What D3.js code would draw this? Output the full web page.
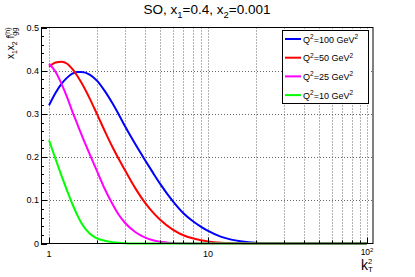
<!DOCTYPE html>
<html>
<head>
<meta charset="utf-8">
<script src="https://cdn.jsdelivr.net/npm/d3@7"></script>
<style>
  body { margin: 0; background: #fff; }
  svg { display: block; font-family: "Liberation Sans", Arial, sans-serif; }
</style>
</head>
<body>
<div id="chart"></div>
<script>
// k_T^2 sample points and the four curves
const kt2 = [1, 1.1, 1.2, 1.3, 1.4, 1.5, 1.6, 1.8, 2, 2.25, 2.5, 2.75, 3, 3.5, 4, 4.5, 5, 6, 7, 8, 9, 10, 12, 14, 16, 18, 20, 25, 30, 40, 50, 60, 70, 80, 90, 100];
const q100 = [0.320, 0.349, 0.370, 0.384, 0.393, 0.397, 0.397, 0.391, 0.377, 0.352, 0.325, 0.298, 0.272, 0.229, 0.194, 0.164, 0.138, 0.098, 0.070, 0.052, 0.039, 0.029, 0.016, 0.009, 0.0052, 0.003, 0.0018, 0.0006, 0.0002, 0, 0, 0, 0, 0, 0, 0];
const q50 = [0.409, 0.419, 0.421, 0.416, 0.404, 0.389, 0.372, 0.336, 0.300, 0.259, 0.224, 0.195, 0.170, 0.127, 0.095, 0.072, 0.055, 0.032, 0.019, 0.012, 0.0075, 0.0048, 0.002, 0.0008, 0.0003, 0.0001, 0, 0, 0, 0, 0, 0, 0, 0, 0, 0];
const q25 = [0.416, 0.397, 0.369, 0.338, 0.306, 0.278, 0.252, 0.207, 0.168, 0.125, 0.092, 0.066, 0.048, 0.026, 0.014, 0.0075, 0.004, 0.0012, 0.0003, 0, 0, 0, 0, 0, 0, 0, 0, 0, 0, 0, 0, 0, 0, 0, 0, 0];
const q10 = [0.239, 0.195, 0.156, 0.122, 0.092, 0.067, 0.047, 0.023, 0.012, 0.0062, 0.0032, 0.0016, 0.0008, 0.0002, 0, 0, 0, 0, 0, 0, 0, 0, 0, 0, 0, 0, 0, 0, 0, 0, 0, 0, 0, 0, 0, 0];
const seriesNames = ['100', '50', '25', '10'];
const seriesValues = [q100, q50, q25, q10];
const seriesColors = ['#0000ff', '#ff0000', '#ff00ff', '#00ff00'];
const yTicks = [0, 0.1, 0.2, 0.3, 0.4, 0.5];

const W = 415, H = 277;
const frame = { left: 41, right: 373, top: 27.5, bottom: 243.5 };

const svg = d3.select('#chart').append('svg')
    .attr('width', W)
    .attr('height', H);

const x = d3.scaleLog().domain([0.89, 109]).range([frame.left, frame.right]);
const y = d3.scaleLinear().domain([0, 0.5]).range([frame.bottom, frame.top]);

// rich text helper: parts = [text, size, offset from baseline, dx]
function rich(sel, parts) {
    let shift = 0;
    parts.forEach(([t, size, off, dx]) => {
        const ts = sel.append('tspan')
            .attr('dy', off - shift)
            .attr('font-size', size)
            .text(t);
        if (dx) ts.attr('dx', dx);
        shift = off;
    });
}

// grid
const xGrid = [];
[1, 10].forEach(d => { for (let i = 1; i < 10; i++) xGrid.push(d * i); });
xGrid.push(100);

svg.append('g').selectAll('line')
    .data(xGrid)
    .join('line')
    .attr('x1', d => Math.round(x(d)) + 0.5).attr('x2', d => Math.round(x(d)) + 0.5)
    .attr('y1', frame.top).attr('y2', frame.bottom)
    .attr('stroke', '#666').attr('stroke-dasharray', '1,2');

svg.append('g').selectAll('line')
    .data(yTicks.slice(1, -1))
    .join('line')
    .attr('x1', frame.left).attr('x2', frame.right)
    .attr('y1', d => Math.round(y(d)) + 0.5).attr('y2', d => Math.round(y(d)) + 0.5)
    .attr('stroke', '#666').attr('stroke-dasharray', '1,2');

// curves
const line = d3.line()
    .x(d => x(d[0]))
    .y(d => y(d[1]))
    .curve(d3.curveMonotoneX);

svg.append('g').selectAll('path')
    .data(seriesValues)
    .join('path')
    .attr('d', vals => line(kt2.map((k, i) => [k, vals[i]])))
    .attr('fill', 'none')
    .attr('stroke', (d, i) => seriesColors[i])
    .attr('stroke-width', 2);

// frame
svg.append('rect')
    .attr('x', frame.left + 0.5).attr('y', frame.top)
    .attr('width', frame.right - frame.left - 0.5).attr('height', frame.bottom - frame.top)
    .attr('fill', 'none').attr('stroke', '#000');

// y ticks
const yMinor = d3.range(0, 0.5001, 0.02);
svg.append('g').selectAll('line')
    .data(yMinor)
    .join('line')
    .attr('x1', frame.left)
    .attr('x2', (d, i) => frame.left + (i % 5 === 0 ? 6 : 3))
    .attr('y1', d => Math.round(y(d)) + 0.5).attr('y2', d => Math.round(y(d)) + 0.5)
    .attr('stroke', '#000');

svg.append('g').selectAll('text')
    .data(yTicks)
    .join('text')
    .attr('x', frame.left - 2)
    .attr('y', d => y(d) + 3)
    .attr('text-anchor', 'end')
    .attr('font-size', 9)
    .text(d => d === 0 ? '0' : d3.format('.1f')(d));

// x ticks
svg.append('g').selectAll('line')
    .data(xGrid)
    .join('line')
    .attr('x1', d => Math.round(x(d)) + 0.5).attr('x2', d => Math.round(x(d)) + 0.5)
    .attr('y1', frame.bottom)
    .attr('y2', d => frame.bottom - ([1, 10, 100].includes(d) ? 6 : 3))
    .attr('stroke', '#000');

svg.append('text').attr('x', x(1)).attr('y', 257).attr('text-anchor', 'middle').attr('font-size', 9).text('1');
svg.append('text').attr('x', x(10)).attr('y', 257).attr('text-anchor', 'middle').attr('font-size', 9).text('10');
rich(svg.append('text').attr('x', x(100)).attr('y', 255).attr('text-anchor', 'middle'),
    [['10', 8.5, 0], ['2', 6, -3.5]]);

// title
rich(svg.append('text').attr('x', 207).attr('y', 14).attr('text-anchor', 'middle'),
    [['SO, x', 13.5, 0], ['1', 9.5, 4], ['=0.4, x', 13.5, 0], ['2', 9.5, 4], ['=0.001', 13.5, 0]]);

// axis titles
rich(svg.append('text').attr('transform', `translate(14,${frame.top}) rotate(-90)`).attr('text-anchor', 'end'),
    [['x', 10, 0], ['1', 7, 3], ['x', 10, 0], ['2', 7, 3], [' f', 10, 0], ['gg', 7, 3], ['(h)', 7, -4.5, -8.2]]);

rich(svg.append('text').attr('x', frame.right).attr('y', 269.5).attr('text-anchor', 'end'),
    [['k', 14, 0], ['T', 8, 2], ['2', 7.5, -6, -5]]);

// legend
const legend = svg.append('g');
legend.append('rect')
    .attr('x', 282.5).attr('y', 30.5).attr('width', 86).attr('height', 73)
    .attr('fill', '#fff').attr('stroke', '#000');

const items = legend.selectAll('g')
    .data(seriesNames)
    .join('g')
    .attr('transform', (d, i) => `translate(0,${39 + i * 18.7})`);

items.append('line')
    .attr('x1', 285).attr('x2', 301)
    .attr('stroke', (d, i) => seriesColors[i])
    .attr('stroke-width', 2);

items.each(function (d) {
    rich(d3.select(this).append('text').attr('x', 303).attr('y', 3.5),
        [['Q', 9, 0], ['2', 6.5, -3.5], ['=' + d + ' GeV', 9, 0], ['2', 6.5, -3.5]]);
});
</script>
</body>
</html>
